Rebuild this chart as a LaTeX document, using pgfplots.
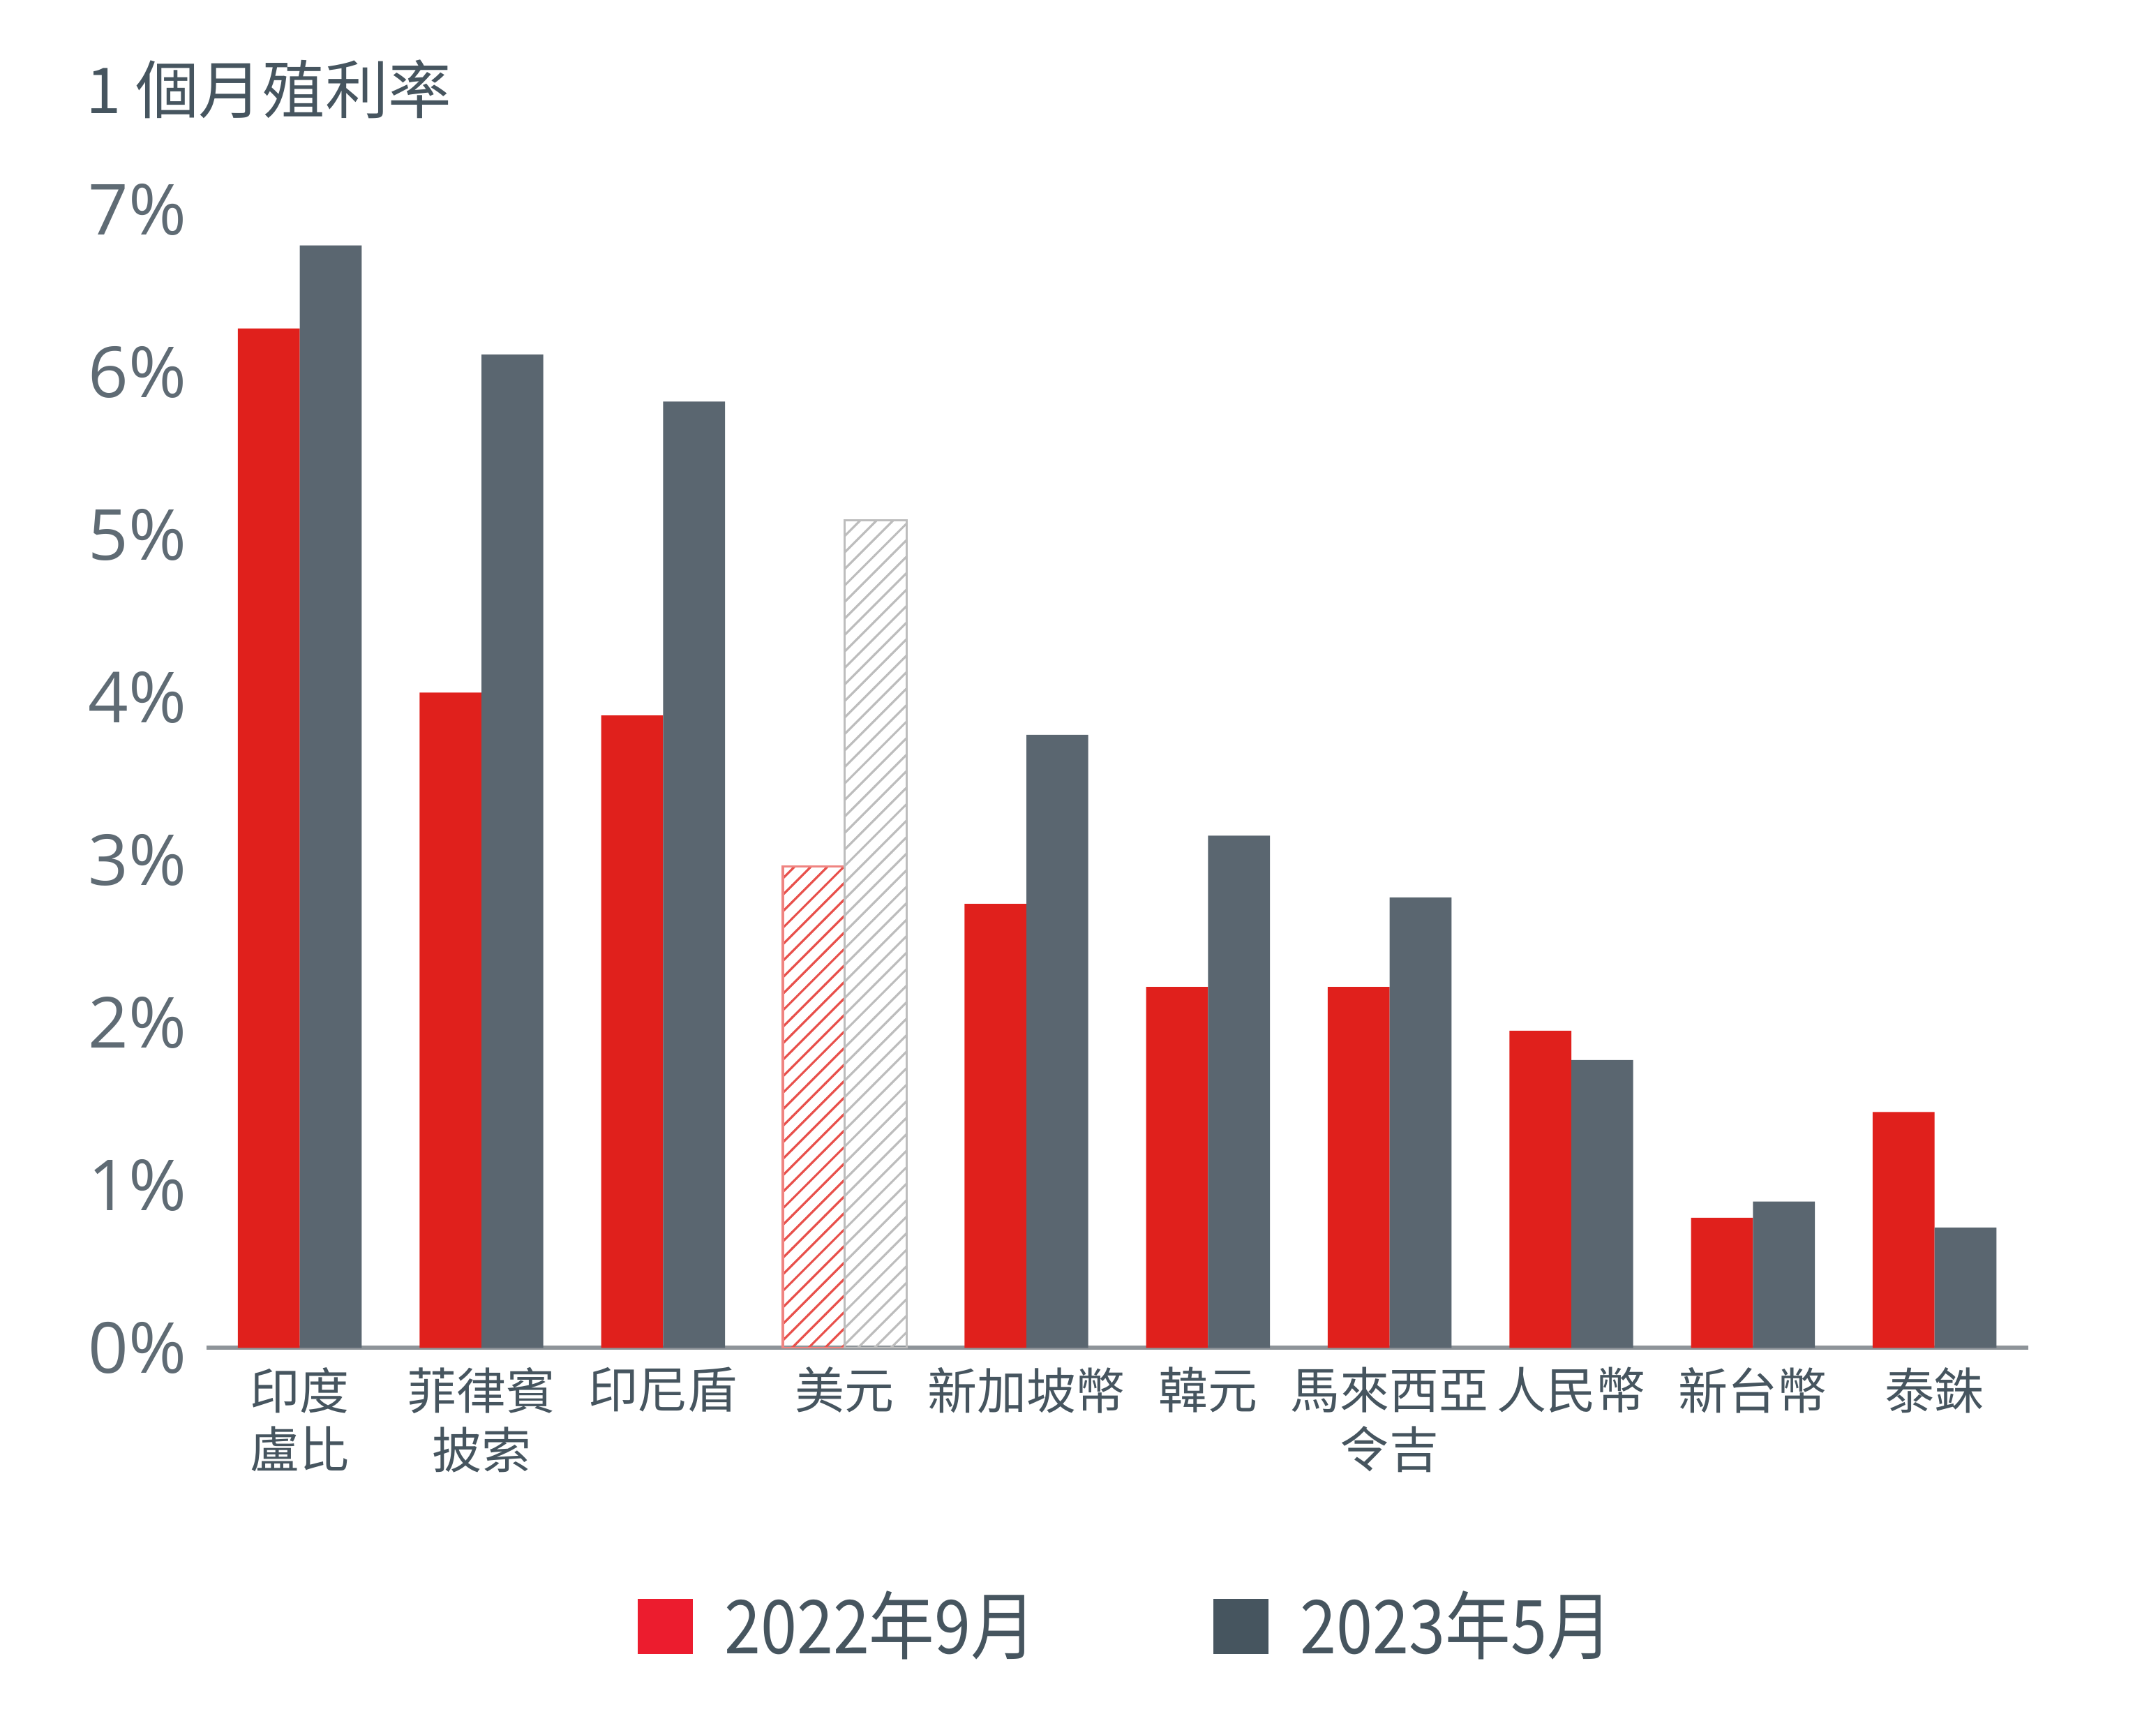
\documentclass[border=0pt]{standalone}
\usepackage{pgfplots}
\pgfplotsset{compat=1.18}
\usetikzlibrary{patterns}
\usepackage{graphicx}
\usepackage{fontspec}
\setmainfont{Noto Sans CJK TC}
\newfontfamily\tickfont{Open Sans}
\definecolor{barred}{HTML}{E0201C}
\definecolor{bargray}{HTML}{5A6670}
\definecolor{legred}{HTML}{EC1C2E}
\definecolor{leggray}{HTML}{46555F}
\definecolor{txt}{HTML}{46555F}
\definecolor{ticktxt}{HTML}{5F6B74}
\definecolor{axisgray}{HTML}{8E9499}
\definecolor{hatchred}{HTML}{E8504B}
\definecolor{hatchgray}{HTML}{BDBDBD}
\begin{document}
\begin{tikzpicture}
\useasboundingbox (-37.5pt,-69pt) rectangle (354.5pt,245pt);
\node[anchor=west, inner sep=0pt, font=\fontsize{11.5}{13}\selectfont, text=txt] at (-22pt,228.75pt) {1 個月殖利率};
\begin{axis}[
  at={(0,0)}, anchor=south west,
  scale only axis, width=331.25pt, height=215.75pt,
  xmin=-0.515, xmax=9.515, ymin=0, ymax=7.3,
  ybar, bar width=11.25pt,
  axis x line=bottom, axis y line=left,
  y axis line style={draw=none},
  x axis line style={-, draw=axisgray, line width=0.8pt},
  major tick length=0pt,
  ytick={0,1,2,3,4,5,6,7},
  yticklabels={0\%,1\%,2\%,3\%,4\%,5\%,6\%,7\%},
  yticklabel style={font=\tickfont\fontsize{12.8}{15}\selectfont, text=ticktxt},
  xtick={0,1,2,3,4,5,6,7,8,9},
  xticklabels={{印度\\盧比},{菲律賓\\披索},印尼盾,美元,新加坡幣,韓元,{馬來西亞\\令吉},人民幣,新台幣,泰銖},
  xticklabel style={font=\fontsize{9}{10.75}\selectfont, text=txt, align=center, anchor=north},
  legend columns=2,
  legend cell align=left,
  legend style={at={(0.2362,-0.2290)}, anchor=west, draw=none, fill=none, inner sep=0pt,
    column sep=5.75pt, nodes={inner sep=0pt, text=txt}, font=\fontsize{13.5}{15}\selectfont},
]
\addplot[fill=barred, draw=none, bar shift=-5.625pt,
  legend image code/.code={\fill[legred] (0pt,-5pt) rectangle (10pt,5pt); \path (0pt,-5pt) (0pt,9pt);}]
  coordinates {(0,6.27)(1,4.03)(2,3.89)(4,2.73)(5,2.22)(6,2.22)(7,1.95)(8,0.80)(9,1.45)};
\addlegendentry{\scalebox{0.88}[1]{2022年9月}\hspace*{26.5pt}}
\addplot[fill=bargray, draw=none, bar shift=5.625pt,
  legend image code/.code={\fill[leggray] (0pt,-5pt) rectangle (10pt,5pt); \path (0pt,-5pt) (0pt,9pt);}]
  coordinates {(0,6.78)(1,6.11)(2,5.82)(4,3.77)(5,3.15)(6,2.77)(7,1.77)(8,0.90)(9,0.74)};
\addlegendentry{\scalebox{0.88}[1]{2023年5月}}
\addplot[forget plot, fill=white, draw=hatchred!70, line width=0.4pt, pattern=north east lines, pattern color=hatchred, bar shift=-5.625pt]
  coordinates {(3,2.96)};
\addplot[forget plot, fill=white, draw=hatchgray, line width=0.4pt, pattern=north east lines, pattern color=hatchgray, bar shift=5.625pt]
  coordinates {(3,5.09)};
\end{axis}
\end{tikzpicture}
\end{document}
